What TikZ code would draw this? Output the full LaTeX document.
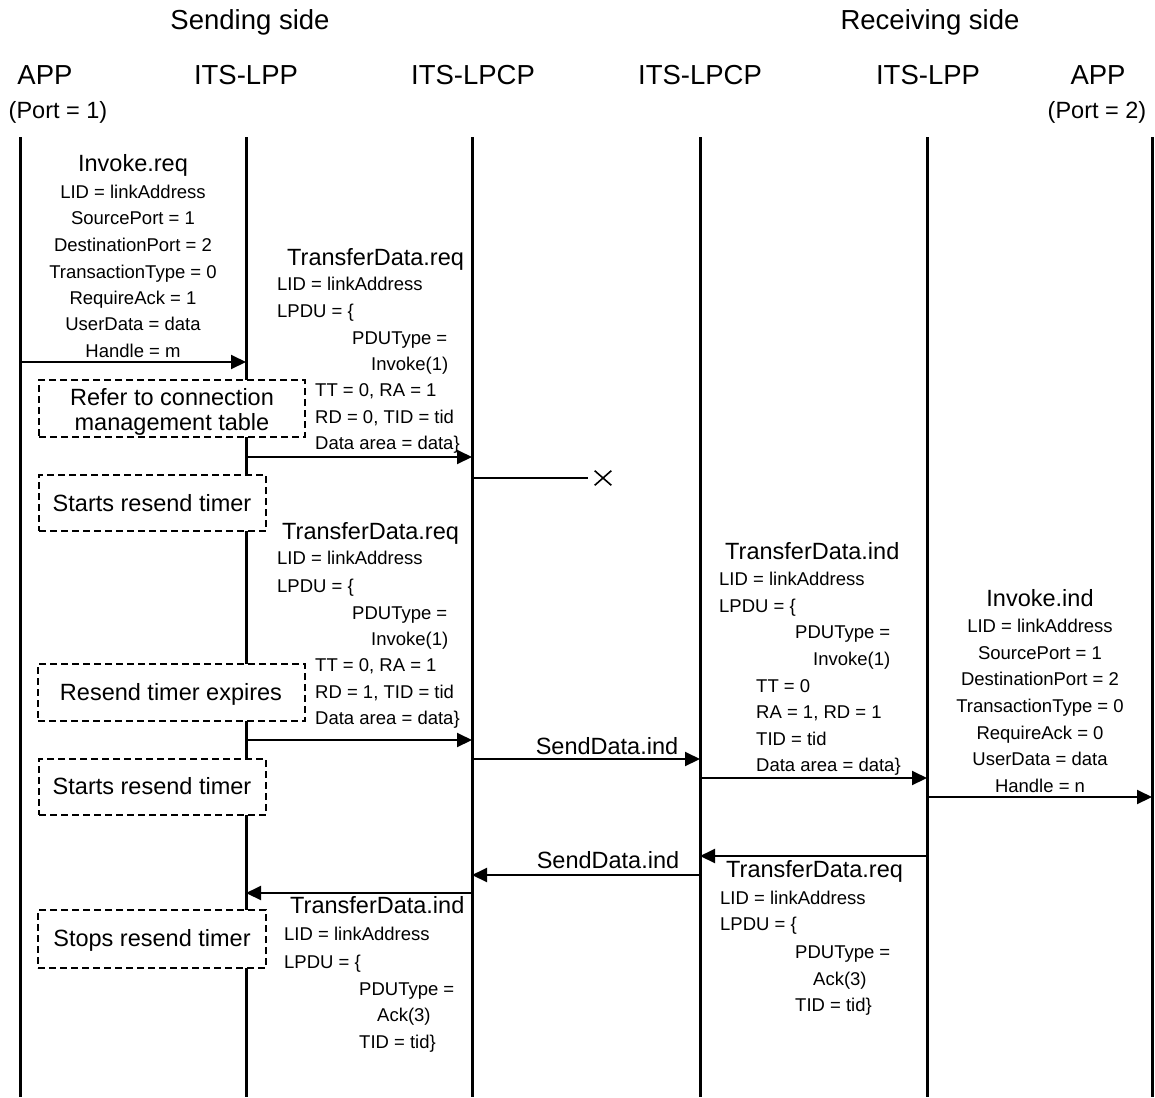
\documentclass[tikz,border=0pt]{standalone}
\usepackage{fontspec}
\setmainfont{Liberation Sans}
\usetikzlibrary{arrows.meta,shapes.misc}
\begin{document}
\begin{tikzpicture}[x=1pt,y=-1pt,
  head/.style={font=\fontsize{27.5}{30}\selectfont, inner sep=0pt, text height=19.8pt, text depth=0pt},
  ttl/.style={font=\fontsize{23.5}{26}\selectfont, inner sep=0pt, text height=16.9pt, text depth=0pt},
  sm/.style={font=\fontsize{18.5}{22}\selectfont, inner sep=0pt, text height=13.3pt, text depth=0pt},
  life/.style={line width=3pt},
  msg/.style={line width=2pt, -{Triangle[length=15pt,width=14pt]}},
  lost/.style={line width=1.5pt},
  note/.style={draw, line width=1.5pt, dash pattern=on 7pt off 4pt, fill=white, inner sep=0pt},
  xmark/.style={cross out, draw, line width=1.6pt, minimum width=15pt, minimum height=13pt, inner sep=0pt}
]
\useasboundingbox (0,0) rectangle (1155,1097);

% headings
\node[head] (hs) at (250,20) {Sending side};
\node[head] (hr) at (930,20) {Receiving side};
\node[head] (h1) at (45,75) {APP};
\node[ttl]  (p1) at (58,110) {(Port = 1)};
\node[head] (h2) at (246,75) {ITS-LPP};
\node[head] (h3) at (473,75) {ITS-LPCP};
\node[head] (h4) at (700,75) {ITS-LPCP};
\node[head] (h5) at (928,75) {ITS-LPP};
\node[head] (h6) at (1098,75) {APP};
\node[ttl]  (p6) at (1097,110) {(Port = 2)};

% lifelines
\foreach \n/\x in {A/20,B/246,C/472,D/700,E/927,F/1152}{
  \coordinate (\n t) at (\x,137);
  \coordinate (\n b) at (\x,1097);
  \draw[life] (\n t) -- (\n b);
}

% Invoke.req
\node[ttl] (ir) at (133,163) {Invoke.req};
\node[sm] at (133,192) {LID = linkAddress};
\node[sm] at (133,218) {SourcePort = 1};
\node[sm] at (133,245) {DestinationPort = 2};
\node[sm] at (133,272) {TransactionType = 0};
\node[sm] at (133,298) {RequireAck = 1};
\node[sm] at (133,324) {UserData = data};
\node[sm] at (133,351) {Handle = m};
\coordinate (m1s) at (20,362); \coordinate (m1e) at (246,362);
\draw[msg] (m1s) -- (m1e);

% box 1
\node[note, minimum width=266pt, minimum height=57pt] (b1) at (172,408.5) {};
\node[ttl] at (172,397) {Refer to connection};
\node[ttl] at (172,422) {management table};

% TransferData.req 1
\node[ttl, anchor=west] (t1) at (287,257) {TransferData.req};
\node[sm, anchor=west] at (277,284) {LID = linkAddress};
\node[sm, anchor=west] at (277,311) {LPDU = \{};
\node[sm, anchor=west] at (352,338) {PDUType =};
\node[sm, anchor=west] at (371,364) {Invoke(1)};
\node[sm, anchor=west] at (315,390) {TT = 0, RA = 1};
\node[sm, anchor=west] at (315,417) {RD = 0, TID = tid};
\node[sm, anchor=west] at (315,443) {Data area = data\}};
\coordinate (m2s) at (246,457); \coordinate (m2e) at (472,457);
\draw[msg] (m2s) -- (m2e);

% lost message
\coordinate (lx) at (473,478);
\coordinate (ly) at (588,478);
\node[xmark] (x1) at (603,478) {};
\draw[lost] (lx) -- (ly);

% box 2
\node[note, minimum width=227pt, minimum height=56pt] (b2) at (152.5,503) {};
\node[ttl] at (152,503) {Starts resend timer};

% TransferData.req 2
\node[ttl, anchor=west] (t2) at (282,531) {TransferData.req};
\node[sm, anchor=west] at (277,558) {LID = linkAddress};
\node[sm, anchor=west] at (277,586) {LPDU = \{};
\node[sm, anchor=west] at (352,613) {PDUType =};
\node[sm, anchor=west] at (371,639) {Invoke(1)};
\node[sm, anchor=west] at (315,665) {TT = 0, RA = 1};
\node[sm, anchor=west] at (315,692) {RD = 1, TID = tid};
\node[sm, anchor=west] at (315,718) {Data area = data\}};

% box 3
\node[note, minimum width=267pt, minimum height=57pt] (b3) at (171.5,692.5) {};
\node[ttl] at (171,692) {Resend timer expires};

\coordinate (m3s) at (246,740); \coordinate (m3e) at (472,740);
\draw[msg] (m3s) -- (m3e);

% box 4
\node[note, minimum width=227pt, minimum height=56pt] (b4) at (152.5,787) {};
\node[ttl] at (152,786) {Starts resend timer};

% SendData.ind 1
\node[ttl] (s1) at (607,746) {SendData.ind};
\coordinate (m4s) at (472,759); \coordinate (m4e) at (700,759);
\draw[msg] (m4s) -- (m4e);

% TransferData.ind (receiving)
\node[ttl, anchor=west] (t3) at (725,551) {TransferData.ind};
\node[sm, anchor=west] at (719,579) {LID = linkAddress};
\node[sm, anchor=west] at (719,606) {LPDU = \{};
\node[sm, anchor=west] at (795,632) {PDUType =};
\node[sm, anchor=west] at (813,659) {Invoke(1)};
\node[sm, anchor=west] at (756,686) {TT = 0};
\node[sm, anchor=west] at (756,712) {RA = 1, RD = 1};
\node[sm, anchor=west] at (756,739) {TID = tid};
\node[sm, anchor=west] at (756,765) {Data area = data\}};
\coordinate (m5s) at (700,778); \coordinate (m5e) at (927,778);
\draw[msg] (m5s) -- (m5e);

% Invoke.ind
\node[ttl] (ii) at (1040,598) {Invoke.ind};
\node[sm] at (1040,626) {LID = linkAddress};
\node[sm] at (1040,653) {SourcePort = 1};
\node[sm] at (1040,679) {DestinationPort = 2};
\node[sm] at (1040,706) {TransactionType = 0};
\node[sm] at (1040,733) {RequireAck = 0};
\node[sm] at (1040,759) {UserData = data};
\node[sm] at (1040,786) {Handle = n};
\coordinate (m6s) at (927,797); \coordinate (m6e) at (1152,797);
\draw[msg] (m6s) -- (m6e);

% TransferData.req (receiving, ack)
\coordinate (m7s) at (927,856); \coordinate (m7e) at (700,856);
\draw[msg] (m7s) -- (m7e);
\node[ttl, anchor=west] (t4) at (726,869) {TransferData.req};
\node[sm, anchor=west] at (720,898) {LID = linkAddress};
\node[sm, anchor=west] at (720,924) {LPDU = \{};
\node[sm, anchor=west] at (795,952) {PDUType =};
\node[sm, anchor=west] at (813,979) {Ack(3)};
\node[sm, anchor=west] at (795,1005) {TID = tid\}};

% SendData.ind 2
\node[ttl] (s2) at (608,860) {SendData.ind};
\coordinate (m8s) at (700,875); \coordinate (m8e) at (472,875);
\draw[msg] (m8s) -- (m8e);

% TransferData.ind (sending)
\coordinate (m9s) at (472,893); \coordinate (m9e) at (246,893);
\draw[msg] (m9s) -- (m9e);
\node[ttl, anchor=west] (t5) at (290,905) {TransferData.ind};
\node[sm, anchor=west] at (284,934) {LID = linkAddress};
\node[sm, anchor=west] at (284,962) {LPDU = \{};
\node[sm, anchor=west] at (359,989) {PDUType =};
\node[sm, anchor=west] at (377,1015) {Ack(3)};
\node[sm, anchor=west] at (359,1042) {TID = tid\}};

% box 5
\node[note, minimum width=228pt, minimum height=58pt] (b5) at (152,939) {};
\node[ttl] at (152,938) {Stops resend timer};
\end{tikzpicture}
\end{document}
